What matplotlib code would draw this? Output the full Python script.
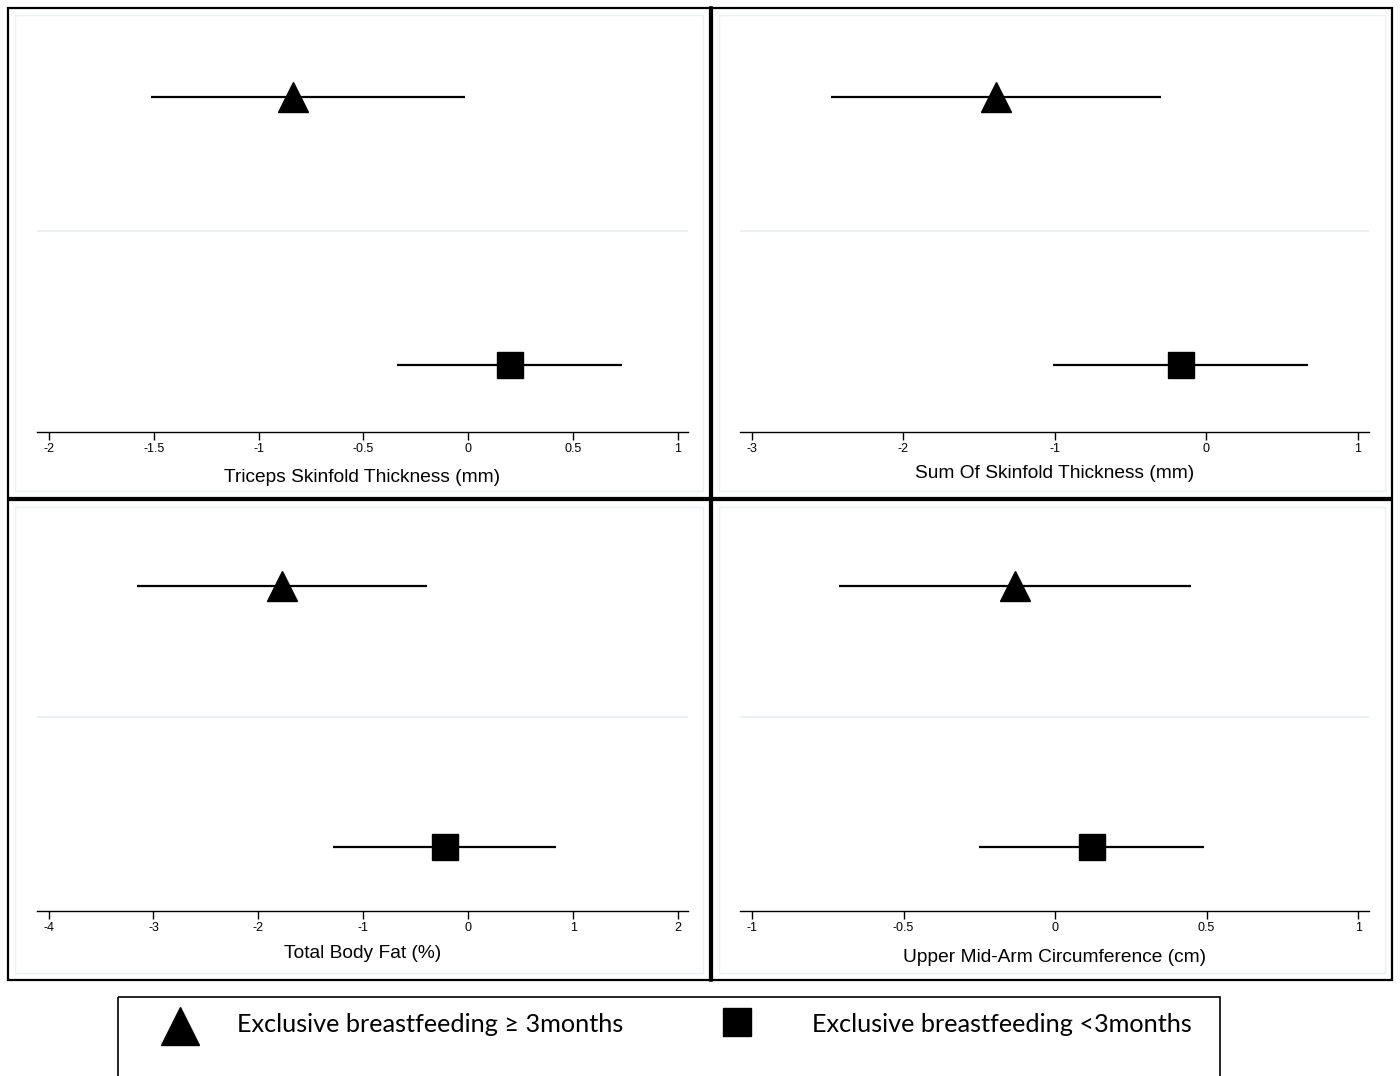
import matplotlib.pyplot as plt
from matplotlib.patches import Rectangle

# estimates: (point, lower CI, upper CI)
groups = ['Exclusive breastfeeding \u2265 3months', 'Exclusive breastfeeding <3months']
titles = ['Triceps Skinfold Thickness (mm)', 'Sum Of Skinfold Thickness (mm)',
          'Total Body Fat (%)', 'Upper Mid-Arm Circumference (cm)']
est_ge3 = [-0.835, -1.39, -1.775, -0.132]
lo_ge3 = [-1.515, -2.48, -3.16, -0.713]
hi_ge3 = [-0.015, -0.297, -0.39, 0.449]
est_lt3 = [0.20, -0.165, -0.22, 0.122]
lo_lt3 = [-0.34, -1.01, -1.29, -0.251]
hi_lt3 = [0.735, 0.673, 0.84, 0.492]
xticks = [[-2, -1.5, -1, -0.5, 0, 0.5, 1],
          [-3, -2, -1, 0, 1],
          [-4, -3, -2, -1, 0, 1, 2],
          [-1, -0.5, 0, 0.5, 1]]
ticklabels = [['-2', '-1.5', '-1', '-0.5', '0', '0.5', '1'],
              ['-3', '-2', '-1', '0', '1'],
              ['-4', '-3', '-2', '-1', '0', '1', '2'],
              ['-1', '-0.5', '0', '0.5', '1']]

W, H = 1400, 1076
fig = plt.figure(figsize=(W / 100, H / 100), dpi=100)
plt.rcParams['font.family'] = ['Liberation Sans', 'DejaVu Sans']

# background overlay in pixel coords for frames and legend
bg = fig.add_axes([0, 0, 1, 1])
bg.set_xlim(0, W)
bg.set_ylim(H, 0)
bg.axis('off')

frames = [(8, 8, 702, 490), (712, 8, 680, 490), (8, 500, 702, 480), (712, 500, 680, 480)]
for (x, y, w, h) in frames:
    bg.add_patch(Rectangle((x + 7, y + 7), w - 14, h - 14, fill=False, ec='#eaf0f4', lw=1))
    bg.add_patch(Rectangle((x, y), w, h, fill=False, ec='black', lw=1.6))
bg.plot([710.5, 710.5], [8, 980], color='black', lw=2.6)

# axes placement in pixels: left, right, top, bottom (axis line), x-limits
axes_px = [(37, 688, 16, 432), (740, 1369, 16, 432), (37, 688, 508, 911), (740, 1369, 508, 911)]
xlims = [(-2.057, 1.048), (-3.08, 1.075), (-4.11, 2.095), (-1.04, 1.036)]
label_pad = [10, 7, 8, 11]

for i in range(4):
    l, r, t, b = axes_px[i]
    ax = fig.add_axes([l / W, 1 - b / H, (r - l) / W, (b - t) / H])
    ax.hlines(1, lo_ge3[i], hi_ge3[i], color='black', lw=1.6)
    ax.hlines(2, lo_lt3[i], hi_lt3[i], color='black', lw=1.6)
    ax.plot(est_ge3[i], 1, marker='^', color='black', ms=22, ls='none')
    ax.plot(est_lt3[i], 2, marker='s', color='black', ms=19, ls='none')
    ax.axhline(1.5, color='#eaf0f4', lw=1.5)
    ax.set_xlim(*xlims[i])
    if i < 2:
        ax.set_ylim(2.25, 0.70)
    else:
        ax.set_ylim(2.245, 0.70)
    for s in ['top', 'left', 'right']:
        ax.spines[s].set_visible(False)
    ax.spines['bottom'].set_linewidth(1.0)
    ax.set_yticks([])
    ax.set_xticks(xticks[i])
    ax.set_xticklabels(ticklabels[i], fontsize=9)
    ax.tick_params(axis='x', direction='out', length=6, width=1, pad=2)
    ax.set_xlabel(titles[i], fontsize=13.8, labelpad=label_pad[i])
    ax.patch.set_alpha(0)

# legend box at the bottom
bg.add_patch(Rectangle((118, 997), 1102, 100, fill=False, ec='black', lw=1.2, clip_on=False))
bg.plot(180, 1026, marker='^', color='black', ms=28, ls='none')
bg.plot(737, 1022, marker='s', color='black', ms=20, ls='none')
bg.text(237, 1025, groups[0], fontsize=18.2, va='center', ha='left', family=['Lato', 'DejaVu Sans'])
bg.text(812, 1025, groups[1], fontsize=18.2, va='center', ha='left', family=['Lato', 'DejaVu Sans'])

fig.savefig('out.png', dpi=100)
